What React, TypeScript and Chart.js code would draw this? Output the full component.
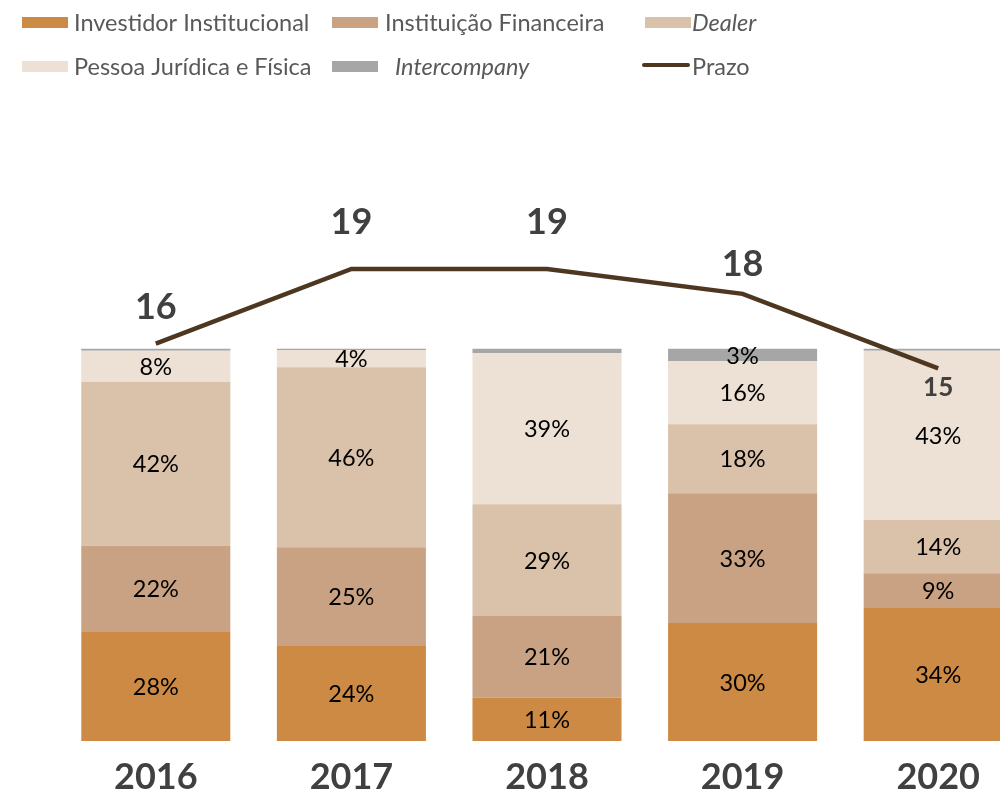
import React, { useEffect, useRef } from "react";
import { Chart, registerables } from "chart.js";

Chart.register(...registerables);

const years = ["2016", "2017", "2018", "2019", "2020"];
const investidorInstitucional = [27.8, 24.2, 11.0, 30.1, 33.9];
const instituicaoFinanceira = [22.0, 25.2, 20.9, 33.1, 8.9];
const dealer = [41.8, 45.9, 28.5, 17.6, 13.6];
const pessoaJuridicaFisica = [7.9, 4.4, 38.5, 16.1, 43.1];
const intercompany = [0.5, 0.3, 1.1, 3.1, 0.5];
const prazo = [16, 19, 19, 18, 15];

const seriesNames = [
  "Prazo",
  "Investidor Institucional",
  "Instituição Financeira",
  "Dealer",
  "Pessoa Jurídica e Física",
  "Intercompany",
];
const seriesColors = ["#4E3720", "#CD8A44", "#C8A283", "#DAC1A9", "#EDE0D5", "#A6A6A6"];

const FONT = "Lato, 'Open Sans', sans-serif";

const legendPlugin = {
  id: "customLegend",
  afterDraw(chart: any, _args: any, opts: any) {
    const ctx = chart.ctx;
    ctx.save();
    (opts.items || []).forEach((it: any) => {
      const ds = chart.data.datasets[it.ds];
      if (ds.type === "line") {
        ctx.strokeStyle = ds.borderColor;
        ctx.lineWidth = 4;
        ctx.lineCap = "round";
        ctx.beginPath();
        ctx.moveTo(it.bx + 2, it.by);
        ctx.lineTo(it.bx + 46, it.by);
        ctx.stroke();
      } else {
        ctx.fillStyle = ds.backgroundColor;
        ctx.fillRect(it.bx, it.by - 5, 46, 11);
      }
      ctx.font = `${it.italic ? "italic " : ""}23.5px ${FONT}`;
      ctx.fillStyle = "#595959";
      ctx.textAlign = "left";
      ctx.textBaseline = "alphabetic";
      ctx.fillText(ds.label, it.tx, it.ty);
    });
    ctx.restore();
  },
};

const valueLabelPlugin = {
  id: "valueLabels",
  afterDatasetsDraw(chart: any, _args: any, opts: any) {
    const ctx = chart.ctx;
    ctx.save();
    chart.data.datasets.forEach((ds: any, di: number) => {
      const meta = chart.getDatasetMeta(di);
      if (ds.type === "bar") {
        ctx.font = `23.5px ${FONT}`;
        ctx.fillStyle = "#000000";
        ctx.textAlign = "center";
        ctx.textBaseline = "middle";
        meta.data.forEach((el: any, i: number) => {
          const v = ds.data[i];
          if (v < 2) return;
          ctx.fillText(Math.round(v) + "%", el.x, (el.y + el.base) / 2 + 1);
        });
      } else if (ds.type === "line") {
        ctx.fillStyle = "#404040";
        ctx.textAlign = "center";
        ctx.textBaseline = "middle";
        meta.data.forEach((el: any, i: number) => {
          ctx.font = `bold ${opts.lineSizes[i]}px ${FONT}`;
          ctx.fillText(String(ds.data[i]), el.x, el.y + opts.lineOffsets[i]);
        });
      }
    });
    ctx.restore();
  },
};

export default function App() {
  const ref = useRef<HTMLCanvasElement>(null);
  useEffect(() => {
    const barSets = [
      investidorInstitucional,
      instituicaoFinanceira,
      dealer,
      pessoaJuridicaFisica,
      intercompany,
    ].map((data, k) => ({
      type: "bar" as const,
      label: seriesNames[k + 1],
      data,
      backgroundColor: seriesColors[k + 1],
      borderWidth: 0,
      barPercentage: 0.762,
      categoryPercentage: 1,
      yAxisID: "y",
      stack: "s",
      order: 1,
    }));
    const chart = new Chart(ref.current!, {
      type: "bar",
      data: {
        labels: years,
        datasets: [
          {
            type: "line" as const,
            label: seriesNames[0],
            data: prazo,
            borderColor: seriesColors[0],
            backgroundColor: seriesColors[0],
            borderWidth: 4.5,
            pointRadius: 0,
            tension: 0,
            yAxisID: "y2",
            order: 0,
          } as any,
          ...barSets,
        ],
      },
      options: {
        responsive: false,
        animation: false,
        layout: { padding: { left: 58, right: 4, top: 192, bottom: -22 } },
        scales: {
          x: {
            stacked: true,
            grid: { display: false, drawTicks: false },
            border: { display: false },
            ticks: {
              color: "#404040",
              padding: 18,
              font: { family: FONT, size: 36, weight: "bold", lineHeight: 1 },
            },
          },
          y: { stacked: true, display: false, min: 0, max: 140 },
          y2: { display: false, min: 0, max: 22.1, position: "right" },
        },
        plugins: {
          legend: { display: false },
          tooltip: { enabled: false },
          customLegend: {
            items: [
              { ds: 1, bx: 22, by: 22, tx: 74, ty: 31 },
              { ds: 2, bx: 332, by: 22, tx: 385, ty: 31 },
              { ds: 3, bx: 645, by: 22, tx: 692, ty: 31, italic: true },
              { ds: 4, bx: 22, by: 66, tx: 74, ty: 75 },
              { ds: 5, bx: 332, by: 66, tx: 395, ty: 75, italic: true },
              { ds: 0, bx: 642, by: 65, tx: 692, ty: 75 },
            ],
          },
          valueLabels: {
            lineOffsets: [-36, -47, -47, -29, 19],
            lineSizes: [36, 36, 36, 36, 26],
          },
        } as any,
      },
      plugins: [legendPlugin, valueLabelPlugin],
    });
    return () => chart.destroy();
  }, []);
  return (
    <div
      style={{
        position: "fixed",
        left: 0,
        top: 0,
        width: 1000,
        height: 791,
        overflow: "hidden",
        background: "#ffffff",
      }}
    >
      <canvas ref={ref} width={1040} height={791} style={{ display: "block", width: 1040, height: 791 }} />
    </div>
  );
}
